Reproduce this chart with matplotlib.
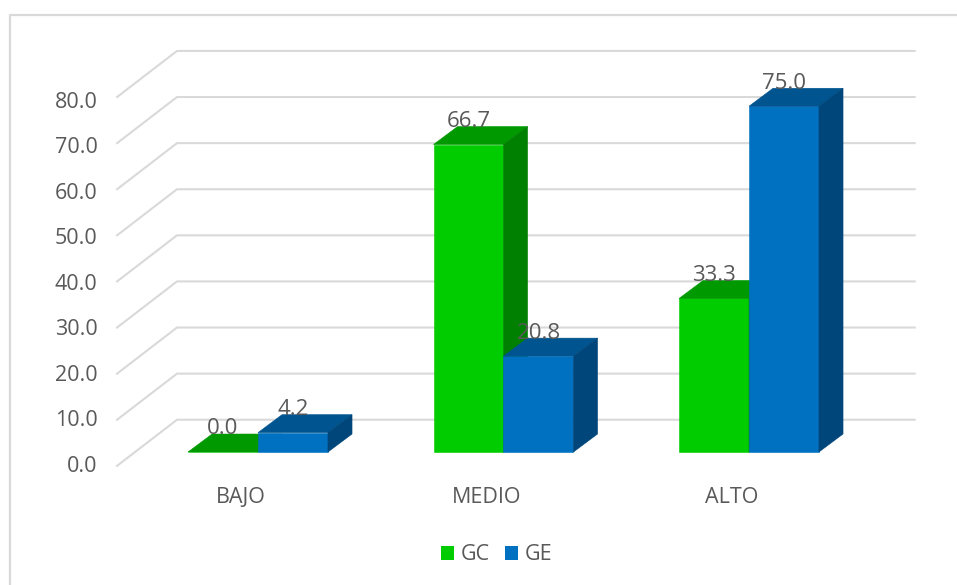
import matplotlib
matplotlib.use('Agg')
from matplotlib import pyplot as plt
from matplotlib.patches import Polygon, Patch

categories = ['BAJO', 'MEDIO', 'ALTO']
gc_values = [0.0, 66.7, 33.3]
ge_values = [4.2, 20.8, 75.0]
tick_values = [0, 10, 20, 30, 40, 50, 60, 70, 80]

# Fake 3D: everything is in (category, value) units, the depth is just an offset
width = 0.285
bar_dx = 0.098
bar_dy = 3.9
wall_dx = 0.244
wall_dy = 10.0
floor_y = -3.0
wall_left = -0.33
wall_right = 2.675

gc_colors = ('#00CC00', '#009900', '#008000')
ge_colors = ('#0070C0', '#00548F', '#00467A')
text_color = '#595959'
grid_color = '#D9D9D9'

plt.rcParams['font.family'] = ['Open Sans', 'DejaVu Sans']

fig = plt.figure(figsize=(9.57, 5.85), dpi=100)
ax = fig.add_axes([0, 0, 1, 1])
ax.set_xlim(-258 / 245.5, (957 - 258) / 245.5)
ax.set_ylim(-133 / 4.61, 452 / 4.61)
ax.axis('off')

# Outer frame of the chart area
ax.plot([0.0105, 0.0105, 1.0], [0, 0.974, 0.974], transform=ax.transAxes,
        color=grid_color, lw=1.6, solid_capstyle='butt')

# Gridlines on the back wall and on the side wall
for t in tick_values:
    ax.plot([wall_left - wall_dx, wall_left, wall_right],
            [floor_y + t, floor_y + t + wall_dy, floor_y + t + wall_dy],
            color=grid_color, lw=1.5, zorder=1)
    ax.text(wall_left - wall_dx - 0.08, floor_y + 0.4 + t * 0.988, f'{t:.1f}',
            ha='right', va='center_baseline', color=text_color, fontsize=15.5)


def draw_bar(left, value, colors):
    right = left + width
    ax.bar(left, value, width, align='edge', color=colors[0], edgecolor=colors[0],
           linewidth=0.4, zorder=3)
    ax.add_patch(Polygon([(left, value), (right, value),
                          (right + bar_dx, value + bar_dy), (left + bar_dx, value + bar_dy)],
                         closed=True, facecolor=colors[1], edgecolor=colors[1],
                         linewidth=0.4, zorder=3))
    ax.add_patch(Polygon([(right, 0), (right + bar_dx, bar_dy),
                          (right + bar_dx, value + bar_dy), (right, value)],
                         closed=True, facecolor=colors[2], edgecolor=colors[2],
                         linewidth=0.4, zorder=3))
    ax.text(left + width / 2, value + bar_dy - 0.1, f'{value:.1f}', ha='center',
            va='baseline', color=text_color, fontsize=16, zorder=4)


for i, cat in enumerate(categories):
    draw_bar(i - width, gc_values[i], gc_colors)
    draw_bar(i, ge_values[i], ge_colors)
    ax.text(i - 0.07, -9.3, cat, ha='center', va='center_baseline',
            color=text_color, fontsize=15.5)

handles = [Patch(facecolor=gc_colors[0], label='GC'), Patch(facecolor=ge_colors[0], label='GE')]
ax.legend(handles=handles, loc='center', bbox_to_anchor=(0.519, 1 - 555 / 585), ncol=2,
          frameon=False, fontsize=15.5, labelcolor=text_color, handlelength=0.6,
          handleheight=0.6, handletextpad=0.3, columnspacing=0.7)

fig.savefig('out.png', dpi=100)
